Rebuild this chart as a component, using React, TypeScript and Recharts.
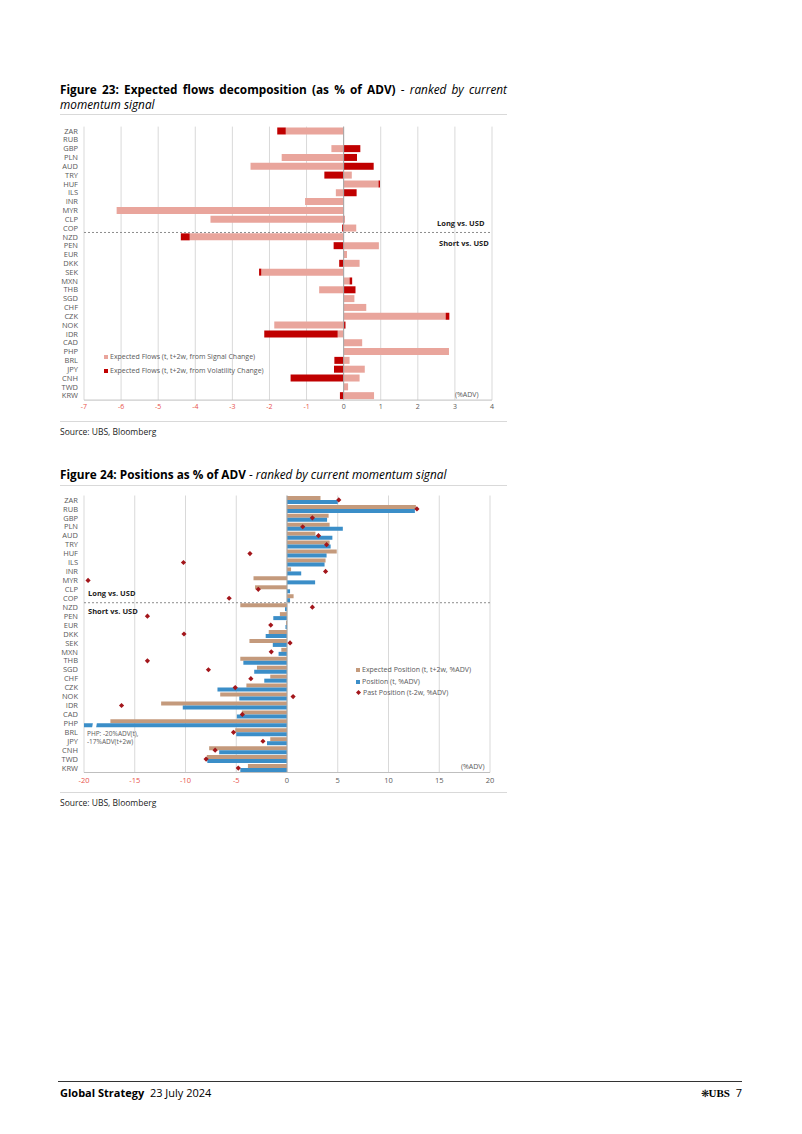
import React from "react";
import { BarChart, ComposedChart, Bar, Line, XAxis, YAxis, CartesianGrid, ReferenceLine, Rectangle } from "recharts";

const categories = ["ZAR", "RUB", "GBP", "PLN", "AUD", "TRY", "HUF", "ILS", "INR", "MYR", "CLP", "COP", "NZD", "PEN", "EUR", "DKK", "SEK", "MXN", "THB", "SGD", "CHF", "CZK", "NOK", "IDR", "CAD", "PHP", "BRL", "JPY", "CNH", "TWD", "KRW"];

// Figure 23 - expected flows (% ADV)
const signalFlows = [-1.56, 0, -0.33, -1.67, -2.51, 0.22, 0.94, -0.21, -1.04, -6.12, -3.59, 0.34, -4.15, 0.95, 0.09, 0.43, -2.22, 0.16, -0.66, 0.29, 0.61, 2.75, -1.87, -0.16, 0.5, 2.84, 0.16, 0.57, 0.43, 0.12, 0.82];
const volFlows = [-0.23, 0, 0.45, 0.36, 0.81, -0.52, 0.04, 0.35, 0, 0, 0.02, -0.04, -0.24, -0.27, 0, -0.12, -0.06, 0.07, 0.32, 0, 0, 0.1, 0.05, -1.98, 0, 0, -0.25, -0.26, -1.43, 0, -0.1];
const flowTicks = [-7, -6, -5, -4, -3, -2, -1, 0, 1, 2, 3, 4];

// Figure 24 - positions (% ADV)
const expectedPos = [3.3, 12.7, 4.1, 4.2, 2.8, 4.2, 4.9, 3.8, 0.4, -3.3, -3.15, 0.65, -4.6, -0.7, -0.1, -1.8, -3.7, -0.56, -4.6, -2.96, -1.65, -4.0, -6.58, -12.4, -4.45, -17.4, -5.1, -1.65, -7.67, -7.9, -3.85];
const currentPos = [5.0, 12.6, 3.95, 5.5, 4.47, 4.3, 3.9, 3.7, 1.4, 2.77, 0.3, 0.3, -0.2, -1.35, -0.15, -2.1, -1.4, -0.83, -4.3, -3.23, -2.24, -6.85, -4.7, -10.27, -4.94, -20, -5.0, -1.97, -6.68, -7.85, -4.6];
const pastPos = [5.1, 12.8, 2.5, 1.55, 3.1, 3.9, -3.65, -10.2, 3.8, -19.6, -2.83, -5.7, 2.5, -13.75, -1.6, -10.15, 0.3, -1.55, -13.75, -7.74, -3.56, -5.1, 0.6, -16.3, -4.4, null, -5.27, -2.37, -7.08, -7.97, -4.8];
const posTicks = [-20, -15, -10, -5, 0, 5, 10, 15, 20];

const flowData = categories.map((name, i) => ({ name, signal: signalFlows[i], vol: volFlows[i] }));
const posData = categories.map((name, i) => ({ name, expected: expectedPos[i], current: currentPos[i], past: pastPos[i] }));

const FONT = "'Open Sans', 'Noto Sans', sans-serif";
const PINK = "#e9a59c";
const DARKRED = "#c00000";
const TAN = "#c49a7c";
const BLUE = "#3b8ec8";
const DIAMOND = "#a3161b";
const GRID = "#d9d9d9";
const LABEL = "#595959";
const NEG = "#e8514a";

const NumTick = ({ x, y, payload, size }: any) => (
  <text x={x} y={y} dy="0.71em" textAnchor="middle" fontSize={size} fontFamily={FONT} fill={payload.value < 0 ? NEG : LABEL}>
    {payload.value}
  </text>
);

const Diamond = ({ cx, cy, value }: any) => {
  if (value == null || cx == null) return null;
  const r = 2.6;
  return <polygon points={`${cx},${cy - r} ${cx + r},${cy} ${cx},${cy + r} ${cx - r},${cy}`} fill={DIAMOND} />;
};

// PHP position runs off the axis: draw a break in it
const BlueBar = (props: any) => {
  const { x, y, width, height, payload } = props;
  const left = Math.min(x, x + width);
  return (
    <g>
      <Rectangle {...props} />
      {payload.name === "PHP" && (
        <polygon points={`${left + 9},${y - 1} ${left + 13},${y - 1} ${left + 12},${y + height + 1} ${left + 8},${y + height + 1}`} fill="#fff" />
      )}
    </g>
  );
};

const abs = (left: number, top: number, extra: React.CSSProperties = {}): React.CSSProperties => ({ position: "absolute", left, top, ...extra });

const Rule = ({ top }: { top: number }) => <div style={abs(60, top, { width: 447, height: 1, background: GRID })} />;

const LegendRow = ({ left, top, color, label, diamond }: any) => (
  <div style={abs(left, top, { fontSize: 7, color: LABEL, whiteSpace: "nowrap", lineHeight: "9px", display: "flex", alignItems: "center" })}>
    {diamond ? (
      <svg width={5} height={5} style={{ marginRight: 2 }}><polygon points="2.5,0 5,2.5 2.5,5 0,2.5" fill={color} /></svg>
    ) : (
      <span style={{ display: "inline-block", width: 4, height: 4, background: color, marginRight: 2 }} />
    )}
    {label}
  </div>
);

export default function App() {
  const catTick = { fontSize: 7.5, fill: LABEL, fontFamily: FONT };
  const titleSize = 11.8;
  return (
    <div style={{ position: "absolute", left: 0, top: 0, width: 802, height: 1134, background: "#fff", fontFamily: FONT, color: "#000" }}>
      {/* Figure 23 */}
      <div style={abs(60, 81.5, { width: 447, fontSize: titleSize, lineHeight: "15px", textAlign: "justify", textAlignLast: "justify", whiteSpace: "nowrap" })}>
        <b>Figure 23: Expected flows decomposition (as % of ADV)</b> - <i>ranked by current</i>
      </div>
      <div style={abs(60, 96.5, { fontSize: titleSize, lineHeight: "15px", fontStyle: "italic" })}>momentum signal</div>
      <Rule top={114} />
      <div style={abs(0, 110)}>
        <BarChart width={520} height={320} data={flowData} layout="vertical" stackOffset="sign" barCategoryGap="10%" margin={{ top: 16.6, right: 28, bottom: 9.9, left: 54 }}>
          <CartesianGrid horizontal={false} stroke={GRID} />
          <XAxis type="number" domain={[-7, 4]} ticks={flowTicks} interval={0} axisLine={{ stroke: "#bfbfbf" }} tickLine={false} tickSize={2} tickMargin={2} height={20} tick={<NumTick size={7} />} />
          <YAxis type="category" dataKey="name" width={30} axisLine={false} tickLine={false} tickSize={4} tickMargin={2} interval={0} tick={catTick} />
          <ReferenceLine x={0} stroke="#a6a6a6" />
          <ReferenceLine y="NZD" position="start" stroke="#8c8c8c" strokeDasharray="2 2" />
          <Bar dataKey="signal" stackId="f" fill={PINK} isAnimationActive={false} />
          <Bar dataKey="vol" stackId="f" fill={DARKRED} isAnimationActive={false} />
        </BarChart>
      </div>
      <div style={abs(437, 218, { fontSize: 7.5, fontWeight: 700, color: "#222" })}>Long vs. USD</div>
      <div style={abs(439, 238, { fontSize: 7.5, fontWeight: 700, color: "#222" })}>Short vs. USD</div>
      <div style={abs(455, 390, { fontSize: 7, color: LABEL })}>(%ADV)</div>
      <LegendRow left={104} top={352} color={PINK} label="Expected Flows (t, t+2w, from Signal Change)" />
      <LegendRow left={104} top={366} color={DARKRED} label="Expected Flows (t, t+2w, from Volatility Change)" />
      <Rule top={421} />
      <div style={abs(60, 426, { fontSize: 8.5, lineHeight: "12px", color: "#222" })}>Source: UBS, Bloomberg</div>

      {/* Figure 24 */}
      <div style={abs(60, 466.5, { fontSize: titleSize, lineHeight: "15px", whiteSpace: "nowrap" })}>
        <b>Figure 24: Positions as % of ADV</b> - <i>ranked by current momentum signal</i>
      </div>
      <Rule top={485} />
      <div style={abs(0, 480)}>
        <ComposedChart width={520} height={320} data={posData} layout="vertical" barCategoryGap="5%" barGap={0} margin={{ top: 15.5, right: 30, bottom: 7.5, left: 54 }}>
          <CartesianGrid horizontal={false} stroke={GRID} />
          <XAxis type="number" domain={[-20, 20]} ticks={posTicks} interval={0} allowDataOverflow axisLine={{ stroke: "#bfbfbf" }} tickLine={false} tickSize={3} tickMargin={2} height={20} tick={<NumTick size={7.5} />} />
          <YAxis type="category" dataKey="name" width={30} axisLine={false} tickLine={false} tickSize={4} tickMargin={2} interval={0} tick={catTick} />
          <ReferenceLine x={0} stroke="#a6a6a6" />
          <ReferenceLine y="NZD" position="start" stroke="#8c8c8c" strokeDasharray="2 2" />
          <Bar dataKey="expected" fill={TAN} isAnimationActive={false} />
          <Bar dataKey="current" fill={BLUE} shape={BlueBar} isAnimationActive={false} />
          <Line dataKey="past" stroke="none" dot={<Diamond />} activeDot={false} isAnimationActive={false} />
        </ComposedChart>
      </div>
      <div style={abs(88, 588, { fontSize: 7.5, fontWeight: 700, color: "#222" })}>Long vs. USD</div>
      <div style={abs(88, 606, { fontSize: 7.5, fontWeight: 700, color: "#222" })}>Short vs. USD</div>
      <div style={abs(87, 730, { fontSize: 6.5, lineHeight: "8px", color: LABEL })}>PHP: -20%ADV(t),<br />-17%ADV(t+2w)</div>
      <div style={abs(461, 762, { fontSize: 7, color: LABEL })}>(%ADV)</div>
      <LegendRow left={356} top={665} color={TAN} label="Expected Position (t, t+2w, %ADV)" />
      <LegendRow left={356} top={677} color={BLUE} label="Position (t, %ADV)" />
      <LegendRow left={356} top={688} color={DIAMOND} label="Past Position (t-2w, %ADV)" diamond />
      <Rule top={792} />
      <div style={abs(60, 797, { fontSize: 8.5, lineHeight: "12px", color: "#222" })}>Source: UBS, Bloomberg</div>

      {/* Footer */}
      <div style={abs(58, 1081, { width: 684, height: 1, background: "#333" })} />
      <div style={abs(60, 1086, { fontSize: 11, lineHeight: "14px" })}>
        <b>Global Strategy</b>&nbsp; 23 July 2024
      </div>
      <div style={abs(700, 1086, { fontSize: 11, lineHeight: "14px", width: 42, textAlign: "right", whiteSpace: "nowrap" })}>
        <span style={{ fontSize: 10 }}>❋</span><b style={{ fontFamily: "'Liberation Serif', serif" }}>UBS</b>&nbsp; 7
      </div>
    </div>
  );
}
